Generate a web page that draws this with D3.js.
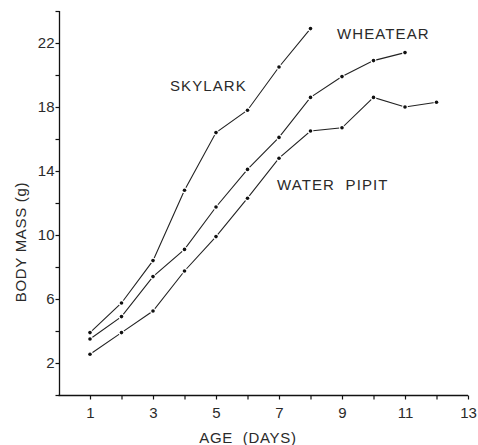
<!DOCTYPE html>
<html><head><meta charset="utf-8">
<script src="https://cdn.jsdelivr.net/npm/d3@7"></script>
<style>
body{margin:0;background:#fff;}
text{font-family:"Liberation Sans",Arial,sans-serif;fill:#2a2a2a;white-space:pre;}
</style></head>
<body><svg id="c" width="478" height="445"></svg>
<script>
const days = [1,2,3,4,5,6,7,8,9,10,11,12];
const skylark   = [3.9,5.75,8.4,12.8,16.4,17.8,20.5,22.9];
const wheatear  = [3.5,4.9,7.4,9.1,11.75,14.1,16.1,18.6,19.9,20.9,21.4];
const waterPipit= [2.55,3.9,5.25,7.75,9.9,12.3,14.8,16.5,16.7,18.6,18.0,18.3];
const seriesNames = ["SKYLARK","WHEATEAR","WATER  PIPIT"];
const xTickLabels = [1,3,5,7,9,11,13];
const yTickLabels = [2,6,10,14,18,22];

const svg = d3.select("#c");
const x = d3.scaleLinear().domain([0,13]).range([58.5,468]);
const y = d3.scaleLinear().domain([0,24]).range([395,11]);

const g = svg.append("g");
const xAxis = d3.axisBottom(x).tickValues(d3.range(1,14)).tickSize(4)
  .tickFormat(d => xTickLabels.includes(d) ? d : "");
const gx = g.append("g").attr("transform","translate(0,395.5)").call(xAxis);
gx.select(".domain").attr("d",`M${x(0)},0H${x(13)}`).attr("stroke","#111").attr("stroke-width",1.3);
gx.selectAll(".tick line").attr("stroke","#111").attr("stroke-width",1.2);
gx.selectAll(".tick text").attr("font-size",15).attr("y",12).attr("dy","0.71em");

const yAxis = d3.axisLeft(y).tickValues(d3.range(0,25,2)).tickSize(4)
  .tickFormat(d => yTickLabels.includes(d) ? d : "");
const gy = g.append("g").attr("transform","translate(59.5,0)").call(yAxis);
gy.select(".domain").attr("d",`M0,${y(24)}V${y(0)}`).attr("stroke","#111").attr("stroke-width",1.3);
gy.selectAll(".tick line").attr("stroke","#111").attr("stroke-width",1.2);
gy.selectAll(".tick text").attr("font-size",15).attr("x",-5);

const data = [skylark, wheatear, waterPipit];
const line = d3.line().x((d,i)=>x(days[i])).y(d=>y(d));
data.forEach(s => {
  g.append("path").datum(s).attr("d",line).attr("fill","none")
   .attr("stroke","#222").attr("stroke-width",1.1);
});
data.forEach(s => {
  g.selectAll(null).data(s).enter().append("circle")
   .attr("cx",(d,i)=>x(days[i])).attr("cy",d=>y(d)).attr("r",1.8)
   .attr("fill","#111").attr("stroke","#fff").attr("stroke-width",2.2)
   .attr("paint-order","stroke");
});

const labelPos = [[170,91],[337,39],[277,190]];
seriesNames.forEach((n,i)=>{
  g.append("text").attr("x",labelPos[i][0]).attr("y",labelPos[i][1])
   .attr("font-size",15).attr("letter-spacing",1.1).text(n);
});
g.append("text").attr("transform","translate(26,242) rotate(-90)")
 .attr("text-anchor","middle").attr("font-size",15).attr("letter-spacing",0.7).text("BODY MASS (g)");
g.append("text").attr("x",248).attr("y",443).attr("text-anchor","middle")
 .attr("font-size",15).attr("letter-spacing",0.7).text("AGE  (DAYS)");
</script></body></html>
